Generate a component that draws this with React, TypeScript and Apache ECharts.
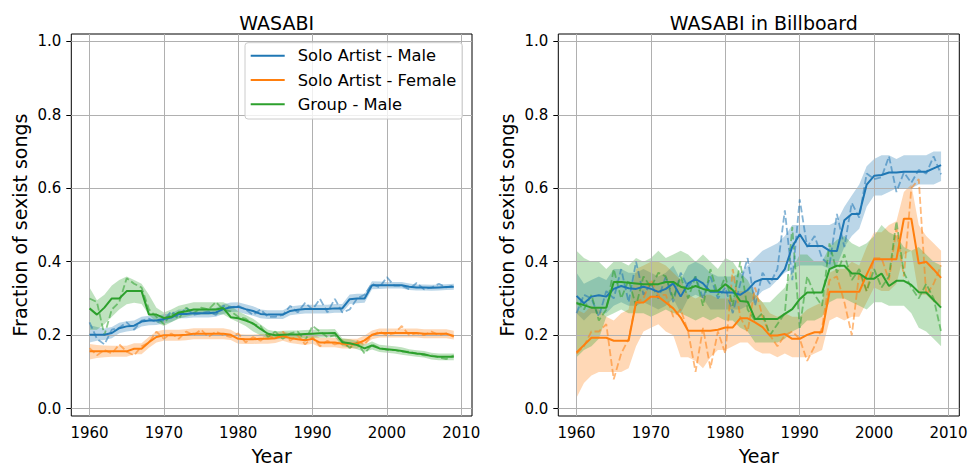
import React, { useEffect, useRef } from "react";
import * as echarts from "echarts";

const years = [
  1960, 1961, 1962, 1963, 1964, 1965, 1966, 1967, 1968, 1969,
  1970, 1971, 1972, 1973, 1974, 1975, 1976, 1977, 1978, 1979,
  1980, 1981, 1982, 1983, 1984, 1985, 1986, 1987, 1988, 1989,
  1990, 1991, 1992, 1993, 1994, 1995, 1996, 1997, 1998, 1999,
  2000, 2001, 2002, 2003, 2004, 2005, 2006, 2007, 2008, 2009,
];
const xTicks = [1960, 1970, 1980, 1990, 2000, 2010];
const yTicks = [0, 0.2, 0.4, 0.6, 0.8, 1.0];
const seriesNames = ["Solo Artist - Male", "Solo Artist - Female", "Group - Male"];
const panelTitles = ["WASABI", "WASABI in Billboard"];

// ---------- WASABI (left) ----------
const wMaleMean = [0.201,0.201,0.201,0.206,0.219,0.224,0.226,0.237,0.240,0.240,0.244,0.248,0.258,0.258,0.260,0.260,0.260,0.262,0.271,0.276,0.277,0.271,0.266,0.258,0.256,0.256,0.256,0.266,0.269,0.271,0.271,0.271,0.271,0.273,0.273,0.298,0.300,0.300,0.336,0.336,0.336,0.336,0.336,0.332,0.330,0.330,0.329,0.330,0.331,0.332];
const wMaleRaw = [0.235,0.190,0.175,0.215,0.220,0.235,0.215,0.240,0.245,0.235,0.240,0.265,0.250,0.275,0.255,0.260,0.265,0.255,0.280,0.275,0.280,0.270,0.255,0.270,0.250,0.250,0.255,0.280,0.262,0.288,0.270,0.299,0.262,0.299,0.262,0.270,0.300,0.310,0.340,0.330,0.358,0.335,0.335,0.325,0.342,0.325,0.330,0.340,0.330,0.335];
const wMaleLo = [0.180,0.185,0.187,0.192,0.205,0.210,0.213,0.224,0.227,0.228,0.232,0.236,0.246,0.246,0.248,0.248,0.248,0.250,0.258,0.263,0.264,0.258,0.253,0.246,0.244,0.244,0.244,0.254,0.257,0.259,0.259,0.259,0.259,0.261,0.261,0.285,0.287,0.288,0.325,0.326,0.327,0.327,0.327,0.323,0.322,0.322,0.321,0.322,0.323,0.324];
const wMaleHi = [0.228,0.222,0.218,0.222,0.234,0.238,0.240,0.250,0.253,0.253,0.257,0.260,0.270,0.270,0.272,0.272,0.272,0.274,0.284,0.289,0.290,0.284,0.279,0.270,0.268,0.268,0.268,0.278,0.281,0.283,0.283,0.283,0.283,0.285,0.285,0.311,0.313,0.313,0.347,0.346,0.345,0.345,0.345,0.341,0.338,0.338,0.337,0.338,0.339,0.340];

const wFemaleMean = [0.156,0.156,0.156,0.156,0.156,0.156,0.163,0.163,0.181,0.195,0.200,0.200,0.200,0.201,0.204,0.204,0.204,0.204,0.204,0.201,0.190,0.189,0.189,0.190,0.190,0.192,0.198,0.192,0.189,0.186,0.190,0.180,0.180,0.180,0.177,0.177,0.177,0.186,0.201,0.206,0.206,0.206,0.206,0.206,0.206,0.204,0.204,0.204,0.204,0.198];
const wFemaleRaw = [0.165,0.145,0.160,0.150,0.175,0.155,0.145,0.170,0.180,0.210,0.190,0.205,0.190,0.210,0.200,0.215,0.195,0.210,0.200,0.195,0.205,0.180,0.195,0.185,0.200,0.190,0.210,0.185,0.200,0.175,0.195,0.170,0.185,0.175,0.180,0.165,0.185,0.175,0.200,0.210,0.200,0.205,0.225,0.200,0.205,0.200,0.210,0.200,0.205,0.195];
const wFemaleLo = [0.134,0.138,0.140,0.141,0.141,0.141,0.148,0.148,0.166,0.180,0.185,0.185,0.185,0.186,0.189,0.189,0.189,0.189,0.189,0.187,0.177,0.176,0.176,0.177,0.177,0.179,0.185,0.179,0.176,0.173,0.177,0.167,0.167,0.167,0.164,0.164,0.164,0.173,0.189,0.194,0.194,0.194,0.194,0.194,0.194,0.192,0.192,0.192,0.192,0.188];
const wFemaleHi = [0.176,0.173,0.172,0.171,0.171,0.171,0.178,0.178,0.196,0.210,0.215,0.215,0.215,0.216,0.219,0.219,0.219,0.219,0.219,0.215,0.203,0.202,0.202,0.203,0.203,0.205,0.211,0.205,0.202,0.199,0.203,0.193,0.193,0.193,0.190,0.190,0.190,0.199,0.213,0.218,0.218,0.218,0.218,0.218,0.218,0.216,0.216,0.216,0.216,0.212];

const wGroupMean = [0.273,0.256,0.275,0.300,0.300,0.320,0.320,0.320,0.256,0.256,0.247,0.250,0.262,0.265,0.270,0.270,0.270,0.270,0.274,0.249,0.246,0.240,0.232,0.217,0.204,0.200,0.201,0.202,0.202,0.203,0.204,0.205,0.205,0.206,0.181,0.178,0.173,0.164,0.172,0.164,0.162,0.160,0.157,0.153,0.150,0.148,0.143,0.141,0.141,0.141];
const wGroupRaw = [0.300,0.290,0.200,0.270,0.290,0.355,0.340,0.330,0.270,0.250,0.230,0.260,0.245,0.275,0.260,0.275,0.270,0.290,0.270,0.265,0.250,0.245,0.230,0.225,0.195,0.210,0.190,0.205,0.210,0.185,0.225,0.210,0.195,0.200,0.185,0.165,0.180,0.150,0.175,0.165,0.160,0.160,0.155,0.155,0.150,0.145,0.145,0.140,0.135,0.145];
const wGroupLo = [0.215,0.215,0.230,0.250,0.270,0.284,0.288,0.285,0.255,0.235,0.225,0.235,0.245,0.250,0.255,0.256,0.256,0.256,0.256,0.245,0.235,0.225,0.210,0.200,0.190,0.189,0.190,0.191,0.191,0.192,0.193,0.194,0.194,0.195,0.170,0.167,0.162,0.154,0.161,0.154,0.152,0.150,0.147,0.144,0.141,0.139,0.134,0.132,0.132,0.132];
const wGroupHi = [0.330,0.295,0.310,0.335,0.350,0.360,0.350,0.340,0.310,0.275,0.262,0.270,0.280,0.285,0.290,0.290,0.290,0.290,0.290,0.280,0.265,0.255,0.245,0.230,0.215,0.211,0.212,0.213,0.213,0.214,0.215,0.216,0.216,0.217,0.192,0.189,0.184,0.175,0.183,0.174,0.172,0.170,0.167,0.162,0.159,0.157,0.152,0.150,0.150,0.150];

// ---------- WASABI in Billboard (right) ----------
const bMaleMean = [0.307,0.287,0.305,0.309,0.305,0.326,0.334,0.328,0.326,0.332,0.326,0.318,0.326,0.341,0.305,0.341,0.353,0.341,0.318,0.318,0.316,0.316,0.310,0.323,0.345,0.353,0.353,0.353,0.380,0.441,0.475,0.443,0.443,0.443,0.430,0.429,0.513,0.530,0.530,0.610,0.634,0.636,0.643,0.643,0.645,0.645,0.645,0.645,0.654,0.663];
const bMaleRaw = [0.260,0.310,0.300,0.250,0.320,0.300,0.380,0.290,0.400,0.310,0.340,0.300,0.360,0.290,0.370,0.330,0.360,0.300,0.360,0.300,0.330,0.260,0.340,0.410,0.280,0.370,0.340,0.380,0.540,0.350,0.570,0.440,0.470,0.410,0.390,0.530,0.440,0.560,0.520,0.640,0.625,0.630,0.687,0.590,0.643,0.615,0.650,0.640,0.687,0.638];
const bMaleLo = [0.26,0.24,0.26,0.26,0.26,0.28,0.29,0.28,0.28,0.29,0.28,0.27,0.28,0.30,0.26,0.30,0.31,0.30,0.27,0.27,0.27,0.27,0.27,0.28,0.30,0.32,0.33,0.35,0.37,0.38,0.39,0.39,0.39,0.39,0.38,0.39,0.44,0.47,0.49,0.55,0.58,0.58,0.59,0.60,0.60,0.60,0.61,0.61,0.61,0.62];
const bMaleHi = [0.37,0.34,0.35,0.36,0.35,0.38,0.38,0.37,0.37,0.38,0.37,0.36,0.37,0.39,0.35,0.39,0.40,0.39,0.37,0.36,0.36,0.36,0.37,0.39,0.41,0.43,0.44,0.45,0.47,0.50,0.50,0.50,0.50,0.50,0.50,0.51,0.55,0.58,0.61,0.66,0.68,0.69,0.69,0.68,0.69,0.69,0.69,0.69,0.70,0.70];

const bFemaleMean = [0.153,0.173,0.193,0.193,0.193,0.185,0.185,0.185,0.289,0.289,0.305,0.305,0.289,0.273,0.248,0.212,0.212,0.212,0.212,0.215,0.221,0.221,0.246,0.246,0.235,0.222,0.199,0.199,0.203,0.190,0.190,0.201,0.208,0.208,0.318,0.318,0.318,0.318,0.318,0.365,0.407,0.407,0.407,0.407,0.517,0.517,0.395,0.400,0.379,0.356];
const bFemaleRaw = [0.150,0.170,0.210,0.210,0.230,0.080,0.150,0.190,0.290,0.300,0.350,0.310,0.310,0.250,0.270,0.210,0.100,0.220,0.110,0.210,0.150,0.380,0.250,0.210,0.330,0.250,0.200,0.170,0.200,0.210,0.190,0.130,0.170,0.220,0.350,0.360,0.290,0.200,0.370,0.320,0.410,0.410,0.350,0.490,0.360,0.600,0.625,0.310,0.340,0.390];
const bFemaleLo = [0.03,0.07,0.09,0.10,0.10,0.10,0.10,0.11,0.17,0.21,0.22,0.23,0.21,0.20,0.14,0.14,0.13,0.11,0.14,0.16,0.16,0.17,0.18,0.18,0.16,0.15,0.15,0.14,0.15,0.14,0.14,0.14,0.15,0.16,0.24,0.25,0.24,0.25,0.25,0.29,0.33,0.32,0.32,0.34,0.42,0.43,0.31,0.31,0.29,0.28];
const bFemaleHi = [0.27,0.26,0.28,0.27,0.25,0.24,0.26,0.27,0.38,0.39,0.40,0.40,0.39,0.37,0.35,0.31,0.30,0.31,0.31,0.30,0.30,0.30,0.32,0.32,0.31,0.29,0.26,0.25,0.26,0.25,0.25,0.27,0.28,0.29,0.37,0.38,0.38,0.40,0.39,0.44,0.48,0.48,0.50,0.51,0.59,0.61,0.50,0.47,0.45,0.43];

const bGroupMean = [0.287,0.282,0.275,0.275,0.275,0.345,0.345,0.343,0.341,0.339,0.339,0.339,0.345,0.345,0.332,0.326,0.334,0.326,0.321,0.321,0.339,0.323,0.293,0.291,0.244,0.244,0.244,0.244,0.258,0.271,0.298,0.316,0.316,0.316,0.380,0.389,0.389,0.368,0.368,0.354,0.354,0.368,0.334,0.348,0.348,0.337,0.317,0.316,0.296,0.275];
const bGroupRaw = [0.290,0.270,0.310,0.240,0.270,0.380,0.300,0.350,0.280,0.360,0.330,0.370,0.360,0.300,0.360,0.300,0.360,0.280,0.380,0.310,0.360,0.280,0.400,0.270,0.240,0.260,0.200,0.230,0.260,0.495,0.220,0.360,0.310,0.280,0.450,0.370,0.420,0.350,0.380,0.320,0.380,0.330,0.360,0.510,0.370,0.330,0.300,0.340,0.300,0.210];
const bGroupLo = [0.14,0.16,0.17,0.19,0.25,0.26,0.27,0.26,0.26,0.26,0.25,0.26,0.27,0.26,0.26,0.25,0.24,0.25,0.24,0.25,0.24,0.24,0.22,0.21,0.18,0.18,0.18,0.18,0.19,0.21,0.22,0.24,0.24,0.25,0.29,0.30,0.30,0.29,0.28,0.27,0.29,0.29,0.28,0.28,0.28,0.26,0.22,0.21,0.19,0.17];
const bGroupHi = [0.43,0.41,0.40,0.40,0.38,0.40,0.40,0.39,0.41,0.40,0.41,0.43,0.41,0.42,0.43,0.42,0.40,0.42,0.40,0.38,0.41,0.40,0.37,0.35,0.31,0.29,0.29,0.31,0.33,0.38,0.42,0.42,0.40,0.40,0.44,0.46,0.47,0.45,0.44,0.45,0.47,0.50,0.48,0.47,0.44,0.43,0.44,0.42,0.40,0.39];

const COLORS = ["#1f77b4", "#ff7f0e", "#2ca02c"];
const FILLS = ["rgba(31,119,180,0.3)", "rgba(255,127,14,0.3)", "rgba(44,160,44,0.3)"];
const FONT = "DejaVu Sans";

const panels = [
  {
    mean: [wMaleMean, wFemaleMean, wGroupMean],
    raw: [wMaleRaw, wFemaleRaw, wGroupRaw],
    lo: [wMaleLo, wFemaleLo, wGroupLo],
    hi: [wMaleHi, wFemaleHi, wGroupHi],
  },
  {
    mean: [bMaleMean, bFemaleMean, bGroupMean],
    raw: [bMaleRaw, bFemaleRaw, bGroupRaw],
    lo: [bMaleLo, bFemaleLo, bGroupLo],
    hi: [bMaleHi, bFemaleHi, bGroupHi],
  },
];

function bandSeries(p: number, k: number, lo: number[], hi: number[]) {
  return {
    type: "custom",
    xAxisIndex: p,
    yAxisIndex: p,
    z: 1,
    silent: true,
    data: years.map((y, i) => [y, lo[i], hi[i]]),
    encode: { x: 0, y: [1, 2] },
    renderItem: (params: any, api: any) => {
      if (params.dataIndex !== 0) return null;
      const top = years.map((y, i) => api.coord([y, hi[i]]));
      const bot = years.map((y, i) => api.coord([y, lo[i]])).reverse();
      return {
        type: "polygon",
        shape: { points: top.concat(bot) },
        style: { fill: FILLS[k], stroke: "none" },
      };
    },
  };
}

export default function App() {
  const ref = useRef<HTMLDivElement>(null);
  useEffect(() => {
    if (!ref.current) return;
    const chart = echarts.init(ref.current, undefined, { renderer: "svg" });
    const grids = [
      { left: 71.3, top: 34, width: 400.7, height: 387.7 },
      { left: 558.3, top: 34, width: 401, height: 387.7 },
    ];
    const series: any[] = [];
    panels.forEach((pd, p) => {
      for (let k = 0; k < 3; k++) series.push(bandSeries(p, k, pd.lo[k], pd.hi[k]));
      series.push({
        type: "line",
        xAxisIndex: p,
        yAxisIndex: p,
        data: [],
        silent: true,
        markLine: {
          silent: true,
          z: 1.5,
          symbol: ["none", "none"],
          label: { show: false },
          emphasis: { disabled: true },
          lineStyle: { color: "#b0b0b0", width: 1, type: "solid" },
          data: [
            ...xTicks.map((v) => ({ xAxis: v })),
            ...yTicks.map((v) => ({ yAxis: v })),
          ],
        },
      });
      for (let k = 0; k < 3; k++) {
        series.push({
          type: "line",
          name: seriesNames[k] + " (yearly)",
          xAxisIndex: p,
          yAxisIndex: p,
          z: 2,
          symbol: "none",
          silent: true,
          data: years.map((y, i) => [y, pd.raw[k][i]]),
          lineStyle: { color: COLORS[k], width: 1.8, type: [7, 3], opacity: 0.55 },
          itemStyle: { color: COLORS[k] },
        });
      }
      for (let k = 0; k < 3; k++) {
        series.push({
          type: "line",
          name: seriesNames[k],
          xAxisIndex: p,
          yAxisIndex: p,
          z: 3,
          symbol: "none",
          silent: true,
          data: years.map((y, i) => [y, pd.mean[k][i]]),
          lineStyle: { color: COLORS[k], width: 2 },
          itemStyle: { color: COLORS[k] },
        });
      }
    });

    const xAxis = grids.map((_, p) => ({
      type: "value",
      gridIndex: p,
      min: 1957.55,
      max: 2011.45,
      name: "Year",
      nameLocation: "middle",
      nameGap: 30,
      nameTextStyle: { fontSize: 19, fontFamily: FONT, color: "#000" },
      splitLine: { show: false },
      axisLine: { show: false },
      axisTick: {
        show: true,
        customValues: xTicks,
        length: 5,
        lineStyle: { color: "#000", width: 1 },
      },
      axisLabel: {
        customValues: xTicks,
        margin: 9,
        fontSize: 15,
        fontFamily: FONT,
        color: "#000",
        formatter: (v: number) => String(v),
      },
    }));
    const yAxis = grids.map((_, p) => ({
      type: "value",
      gridIndex: p,
      min: -0.02,
      max: 1.02,
      name: "Fraction of sexist songs",
      nameLocation: "middle",
      nameGap: 42,
      nameTextStyle: { fontSize: 19, fontFamily: FONT, color: "#000" },
      splitLine: { show: false },
      axisLine: { show: false },
      axisTick: {
        show: true,
        customValues: yTicks,
        length: 5,
        lineStyle: { color: "#000", width: 1 },
      },
      axisLabel: {
        customValues: yTicks,
        margin: 10,
        fontSize: 15,
        fontFamily: FONT,
        color: "#000",
        formatter: (v: number) => v.toFixed(1),
      },
    }));

    chart.setOption({
      animation: false,
      backgroundColor: "#ffffff",
      title: panelTitles.map((t, p) => ({
        text: t,
        left: grids[p].left + grids[p].width / 2,
        top: 8,
        textAlign: "center",
        textStyle: { fontSize: 19, fontWeight: "normal", fontFamily: FONT, color: "#000" },
      })),
      legend: {
        show: true,
        orient: "vertical",
        left: 245,
        top: 42.7,
        data: seriesNames,
        icon: "rect",
        itemWidth: 34,
        itemHeight: 2,
        itemGap: 4.3,
        padding: [3, 6, 4.7, 5.7],
        backgroundColor: "rgba(255,255,255,0.8)",
        borderColor: "#cccccc",
        borderWidth: 1,
        borderRadius: 3,
        selectedMode: false,
        itemStyle: { borderWidth: 0 },
        textStyle: {
          fontSize: 16.3,
          fontFamily: FONT,
          color: "#000",
          lineHeight: 20,
          padding: [0, 0, 0, 8],
        },
      },
      grid: grids.map((g) => ({
        ...g,
        show: true,
        borderColor: "#000",
        borderWidth: 1,
        backgroundColor: "transparent",
        containLabel: false,
      })),
      xAxis,
      yAxis,
      series,
    });
    return () => chart.dispose();
  }, []);
  return (
    <div
      ref={ref}
      style={{ position: "absolute", left: 0, top: 0, width: 971, height: 470 }}
    />
  );
}
